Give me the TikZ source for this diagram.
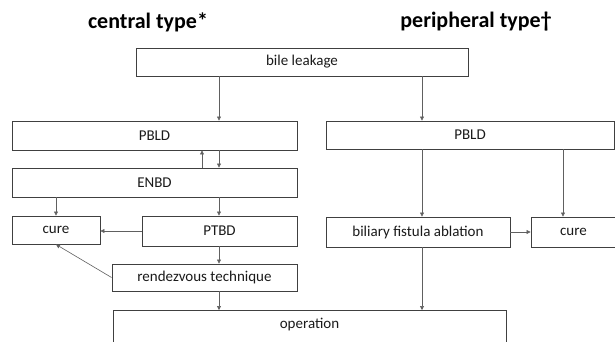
\documentclass[tikz,border=0pt]{standalone}
\usepackage{fontspec}
\setmainfont{Carlito}
\usetikzlibrary{arrows.meta}
\definecolor{boxline}{HTML}{404040}
\definecolor{arrline}{HTML}{606060}
\definecolor{txt}{HTML}{1A1A1A}
\tikzset{
  box/.style={draw=boxline, line width=0.9pt, inner sep=0pt, font=\fontsize{15}{16}\selectfont, text=txt},
  ttl/.style={font=\fontsize{22}{24}\selectfont\bfseries, text=black, inner sep=0pt},
  arr/.style={draw=arrline, line width=0.6pt, -{Triangle[length=4pt,width=4pt]}}
}
\begin{document}
\begin{tikzpicture}[x=1pt,y=-1pt]
\useasboundingbox (0,0) rectangle (615,341);
\clip (0,0) rectangle (615,341);
\fill[white] (0,0) rectangle (615,341);
% titles
\node[ttl] (t1) at (148,22) {central type*};
\node[ttl] (t2) at (476,22) {peripheral type†};
% boxes
\node[box, minimum width=332pt, minimum height=28pt] (bl) at (302,62) {bile leakage};
\node[box, minimum width=285pt, minimum height=29pt] (lp) at (154.5,135.5) {PBLD};
\node[box, minimum width=285pt, minimum height=29pt] (en) at (154.5,182.5) {ENBD};
\node[box, minimum width=88pt, minimum height=28pt] (cu) at (56,230) {cure};
\node[box, minimum width=155pt, minimum height=30pt] (pt) at (219.5,231) {PTBD};
\node[box, minimum width=185pt, minimum height=27pt] (rv) at (204.5,277.5) {rendezvous technique};
\node[box, minimum width=393pt, anchor=north, text height=18.5pt, text depth=22pt] (op) at (309.5,310) {operation};
\node[box, minimum width=288pt, minimum height=28pt] (rp) at (470,135) {PBLD};
\node[box, minimum width=184pt, minimum height=30pt] (bf) at (418,232) {biliary fistula ablation};
\node[box, minimum width=85pt, minimum height=30pt] (cr) at (573.5,232) {cure};
% column coordinates
\coordinate (cA) at (219,0);
\coordinate (cU) at (202,0);
\coordinate (cB) at (422,0);
\coordinate (cC) at (563,0);
% central connectors
\draw[arr] (bl.south -| cA) -- (lp.north -| cA);
\draw[arr] (lp.south -| cA) -- (en.north -| cA);
\draw[arr] (en.north -| cU) -- (lp.south -| cU);
\draw[arr] (en.south -| cu.north) -- (cu.north);
\draw[arr] (en.south -| cA) -- (pt.north -| cA);
\draw[arr] (pt.west) -- (pt.west -| cu.east);
\draw[arr] (pt.south -| cA) -- (rv.north -| cA);
\draw[arr] (rv.west) -- (cu.south);
\draw[arr] (rv.south -| cA) -- (op.north -| cA);
% peripheral connectors
\draw[arr] (bl.south -| cB) -- (rp.north -| cB);
\draw[arr] (rp.south -| cB) -- (bf.north -| cB);
\draw[arr] (rp.south -| cC) -- (cr.north -| cC);
\draw[arr] (bf.east) -- (bf.east -| cr.west);
\draw[arr] (bf.south -| cB) -- (op.north -| cB);
\end{tikzpicture}
\end{document}
